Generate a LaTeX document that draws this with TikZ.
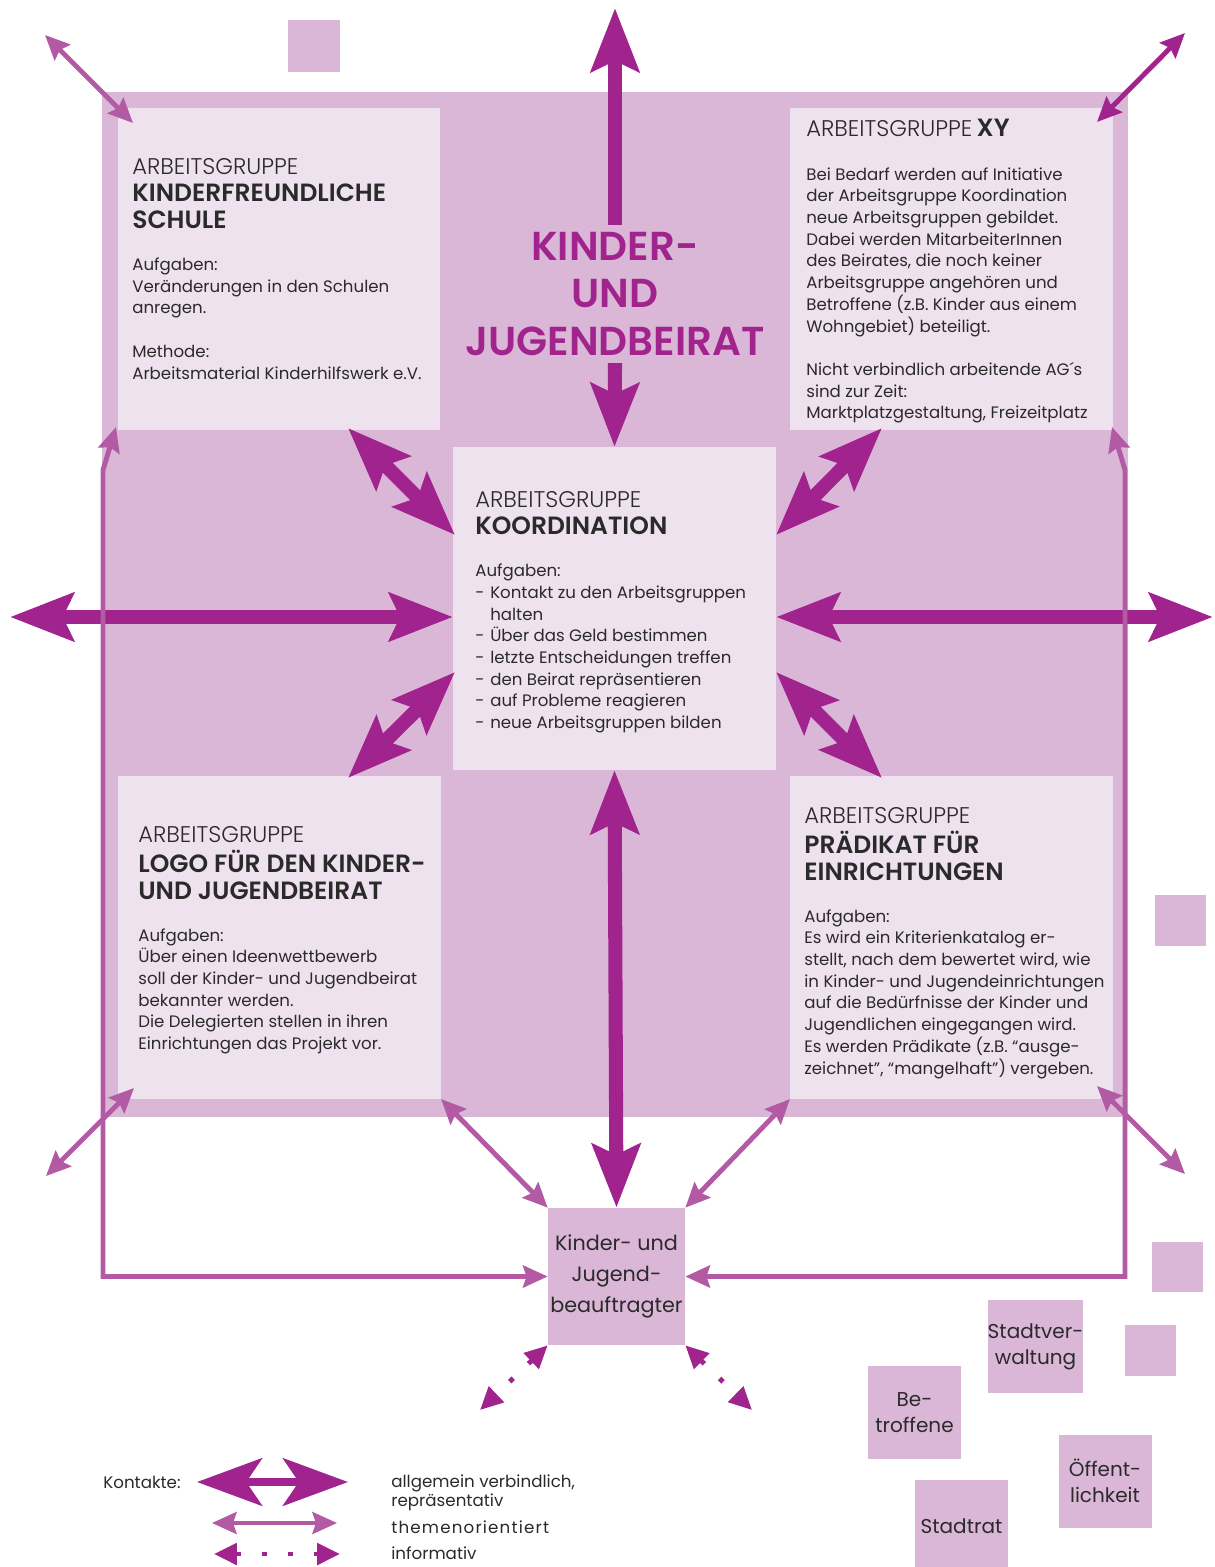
\documentclass[tikz,border=0pt]{standalone}
\usepackage{fontspec}
\setmainfont{Poppins}
\IfFontExistsTF{Poppins Light}
  {\newfontfamily\agfont{Poppins Light}}
  {\newfontfamily\agfont{Poppins}}
\IfFontExistsTF{Poppins SemiBold}
  {\newfontfamily\headfont{Poppins SemiBold}}
  {\newfontfamily\headfont{Poppins}[UprightFont=*-Bold]}
\usetikzlibrary{arrows.meta}

\definecolor{beiratpurple}{HTML}{A1238D}
\definecolor{themapurple}{HTML}{B35AA4}
\definecolor{boxback}{HTML}{DAB7D7}
\definecolor{boxlight}{HTML}{EFE2EF}
\definecolor{textgray}{HTML}{2B2A2B}

\newcommand{\agline}{{\agfont\fontsize{12.9}{14}\selectfont ARBEITSGRUPPE}}
\newcommand{\agname}[1]{{\headfont\fontsize{14.2}{15}\selectfont #1}}
\newcommand{\listdash}{\makebox[8.5pt][l]{-}}

\tikzset{
  bigtip/.tip={Stealth[length=36pt,width=27pt,inset=6pt]},
  legtip/.tip={Stealth[length=37pt,width=27pt,inset=9pt]},
  midtip/.tip={Stealth[length=14pt,width=12.5pt,inset=2pt]},
  infotip/.tip={Triangle[length=13pt,width=12pt]},
  bigarrow/.style={draw=beiratpurple,line width=8pt,arrows={bigtip-bigtip}},
  midarrow/.style={draw=themapurple,line width=2.8pt,arrows={midtip-midtip}},
  infoarrow/.style={draw=beiratpurple,line width=2.8pt,
    dash pattern=on 2.8pt off 12pt,arrows={infotip-infotip}},
  lightbox/.style={fill=boxlight,minimum size=6.45cm,inner sep=0pt},
  smallbox/.style={fill=boxback,minimum size=1.86cm,inner sep=0pt,align=center,
    text=textgray,font=\fontsize{11.4}{14.7}\selectfont},
  agtext/.style={anchor=north west,align=left,inner sep=0pt,text=textgray,
    font=\fontsize{9.45}{12.35}\selectfont},
  legtext/.style={anchor=west,align=left,inner sep=0pt,text=textgray,
    font=\fontsize{9.5}{9}\selectfont}
}

\begin{document}
\begin{tikzpicture}[x=0.02cm,y=-0.02cm]
  \useasboundingbox (0,0) rectangle (1214,1567);

  % Beirat
  \fill[boxback] (102,92) rectangle (1128,1117);
  \fill[boxback] (288,20) rectangle (340,72);
  \fill[boxback] (1155,895) rectangle (1206,946);
  \fill[boxback] (1152,1242) rectangle (1203,1292);
  \fill[boxback] (1125,1325) rectangle (1176,1376);

  \node[lightbox] (agks)   at (279,269) {};
  \node[lightbox] (agxy)   at (951.5,269) {};
  \node[lightbox] (koord)  at (614.5,608.5) {};
  \node[lightbox] (aglogo) at (279.5,937.5) {};
  \node[lightbox] (agpr)   at (951.5,937.5) {};

  \node[text=beiratpurple,align=center,inner sep=4pt,
        font=\headfont\fontsize{23}{27}\selectfont] (title) at (615,294)
        {KINDER-\\UND\\JUGENDBEIRAT};

  \node[fill=boxback,minimum size=2.74cm,inner sep=0pt,align=center,text=textgray,
        font=\fontsize{11.8}{17.6}\selectfont] (beauf) at (616.5,1276.5)
        {Kinder- und\\Jugend-\\beauftragter};

  \node[smallbox] (stadtverw) at (1035.5,1346.5) {Stadtver-\\waltung};
  \node[smallbox] (betroff)   at (914.5,1412.5) {Be-\\troffene};
  \node[smallbox] (oeffent)   at (1105,1481) {Öffent-\\lichkeit};
  \node[smallbox] (stadtrat)  at (961.5,1526.5) {Stadtrat};

  % free ends
  \coordinate (toptip)   at (615,8);
  \coordinate (lefttip)  at (10,617);
  \coordinate (righttip) at (1213,617);
  \coordinate (d1a) at (348,428); \coordinate (d1b) at (455,535);
  \coordinate (d2a) at (882,428); \coordinate (d2b) at (776,535);
  \coordinate (d3a) at (455,672); \coordinate (d3b) at (348,778);
  \coordinate (d4a) at (776,672); \coordinate (d4b) at (882,778);
  \coordinate (c1a) at (45,35);    \coordinate (c1b) at (133,123);
  \coordinate (c2a) at (1185,33);  \coordinate (c2b) at (1097,122);
  \coordinate (c3a) at (46,1176);  \coordinate (c3b) at (134,1088);
  \coordinate (c4a) at (1185,1174);\coordinate (c4b) at (1097,1086);
  \coordinate (infol) at (480,1410);
  \coordinate (infor) at (752,1410);

  % allgemein verbindlich
  \draw[bigarrow,arrows={-bigtip}] (title.north) -- (toptip);
  \draw[bigarrow,arrows={-bigtip}] (title.south) -- (koord.north);
  \draw[bigarrow] (lefttip) -- (lefttip -| koord.west);
  \draw[bigarrow] (righttip) -- (righttip -| koord.east);
  \draw[bigarrow] (d1a) -- (d1b);
  \draw[bigarrow] (d2a) -- (d2b);
  \draw[bigarrow] (d3a) -- (d3b);
  \draw[bigarrow] (d4a) -- (d4b);
  \draw[bigarrow] (koord.south) -- (beauf.north);

  % themenorientiert
  \draw[midarrow] (c1a) -- (c1b);
  \draw[midarrow,draw=beiratpurple] (c2a) -- (c2b);
  \draw[midarrow] (c3a) -- (c3b);
  \draw[midarrow] (c4a) -- (c4b);
  \draw[midarrow] (aglogo.south east) -- (beauf.north west);
  \draw[midarrow] (agpr.south west) -- (beauf.north east);
  \draw[midarrow] (beauf.west) -| (103,470) -- (116,427);
  \draw[midarrow] (beauf.east) -| (1125,470) -- (1112,427);

  % informativ
  \draw[infoarrow] (beauf.south west) -- (infol);
  \draw[infoarrow] (beauf.south east) -- (infor);

  % texts
  \node[agtext] (agkstext) at (132,158)
    {\agline\\[3.3pt]
     \agname{KINDERFREUNDLICHE}\\[3.0pt]
     \agname{SCHULE}\\[11.4pt]
     Aufgaben:\\
     Veränderungen in den Schulen\\
     anregen.\\[12.35pt]
     Methode:\\
     Arbeitsmaterial Kinderhilfswerk e.V.};

  \node[agtext] (agxytext) at (806,119)
    {\agline\ \agname{XY}\\[12.35pt]
     Bei Bedarf werden auf Initiative\\
     der Arbeitsgruppe Koordination\\
     neue Arbeitsgruppen gebildet.\\
     Dabei werden MitarbeiterInnen\\
     des Beirates, die noch keiner\\
     Arbeitsgruppe angehören und\\
     Betroffene (z.B. Kinder aus einem\\
     Wohngebiet) beteiligt.\\[12.35pt]
     Nicht verbindlich arbeitende AG´s\\
     sind zur Zeit:\\
     Marktplatzgestaltung, Freizeitplatz};

  \node[agtext] (koordtext) at (475,491)
    {\agline\\[3.3pt]
     \agname{KOORDINATION}\\[11.4pt]
     Aufgaben:\\
     \listdash Kontakt zu den Arbeitsgruppen\\
     \phantom{\listdash}halten\\
     \listdash Über das Geld bestimmen\\
     \listdash letzte Entscheidungen treffen\\
     \listdash den Beirat repräsentieren\\
     \listdash auf Probleme reagieren\\
     \listdash neue Arbeitsgruppen bilden};

  \node[agtext] (aglogotext) at (138,826)
    {\agline\\[3.3pt]
     \agname{LOGO FÜR DEN KINDER-}\\[3.0pt]
     \agname{UND JUGENDBEIRAT}\\[11.4pt]
     Aufgaben:\\
     Über einen Ideenwettbewerb\\
     soll der Kinder- und Jugendbeirat\\
     bekannter werden.\\
     Die Delegierten stellen in ihren\\
     Einrichtungen das Projekt vor.};

  \node[agtext] (agprtext) at (804,807)
    {\agline\\[3.3pt]
     \agname{PRÄDIKAT FÜR}\\[3.0pt]
     \agname{EINRICHTUNGEN}\\[11.4pt]
     Aufgaben:\\
     Es wird ein Kriterienkatalog er-\\
     stellt, nach dem bewertet wird, wie\\
     in Kinder- und Jugendeinrichtungen\\
     auf die Bedürfnisse der Kinder und\\
     Jugendlichen eingegangen wird.\\
     Es werden Prädikate (z.B. “ausge-\\
     zeichnet”, “mangelhaft”) vergeben.};

  % Legende
  \node[legtext] (kontakte) at (103,1482) {Kontakte:};
  \coordinate (l1a) at (197,1482); \coordinate (l1b) at (348,1482);
  \coordinate (l2a) at (212,1523); \coordinate (l2b) at (337,1523);
  \coordinate (l3a) at (214,1554); \coordinate (l3b) at (340,1554);
  \draw[bigarrow,line width=4.5pt,arrows={legtip-legtip}] (l1a) -- (l1b);
  \draw[midarrow,line width=2.2pt] (l2a) -- (l2b);
  \draw[infoarrow] (l3a) -- (l3b);
  \node[legtext] (leg1) at (391,1493) {allgemein verbindlich,\\repräsentativ};
  \node[legtext] (leg2) at (391,1527)
    {\addfontfeatures{LetterSpace=7}themenorientiert};
  \node[legtext] (leg3) at (391,1553) {informativ};
\end{tikzpicture}
\end{document}
